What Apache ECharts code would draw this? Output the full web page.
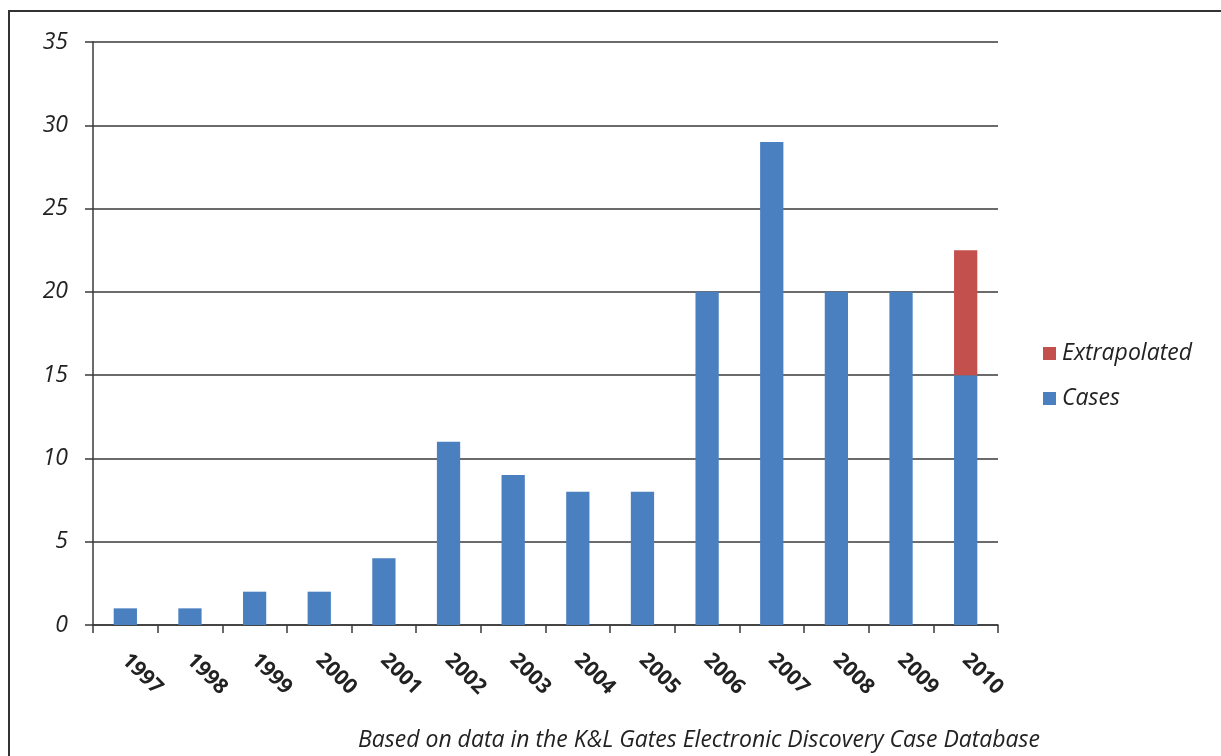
<!DOCTYPE html>
<html>
<head>
<meta charset="utf-8">
<script src="https://cdn.jsdelivr.net/npm/echarts@6/dist/echarts.min.js"></script>
<style>
  html, body { margin: 0; padding: 0; background: #fff; }
  #chart { width: 1221px; height: 756px; }
</style>
</head>
<body>
<div id="chart"></div>
<script>
// Yearly counts of e-discovery cases
const years = ['1997','1998','1999','2000','2001','2002','2003','2004','2005','2006','2007','2008','2009','2010'];
const cases = [1, 1, 2, 2, 4, 11, 9, 8, 8, 20, 29, 20, 20, 15];
const extrapolated = [0, 0, 0, 0, 0, 0, 0, 0, 0, 0, 0, 0, 0, 7.5];
const yTicks = { min: 0, max: 35, interval: 5 };
const sourceNote = 'Based on data in the K&L Gates Electronic Discovery Case Database';

const FONT = '"Open Sans", "Noto Sans", sans-serif';
const AXIS_COLOR = '#3a3a3a';

const chart = echarts.init(document.getElementById('chart'), null, { renderer: 'canvas' });

chart.setOption({
  animation: false,
  backgroundColor: '#fff',
  textStyle: { fontFamily: FONT },
  graphic: [
    {
      type: 'rect',
      shape: { x: 9, y: 11, width: 1240, height: 780 },
      style: { fill: 'none', stroke: '#333', lineWidth: 2 },
      silent: true
    },
    {
      type: 'text',
      x: 699,
      y: 740,
      style: {
        text: sourceNote,
        font: 'italic 23px ' + FONT,
        fill: '#222',
        align: 'center',
        verticalAlign: 'middle'
      }
    }
  ],
  legend: {
    orient: 'vertical',
    left: 1043,
    top: 342,
    padding: 0,
    itemWidth: 13,
    itemHeight: 13,
    itemGap: 22,
    icon: 'rect',
    data: ['Extrapolated', 'Cases'],
    textStyle: { fontFamily: FONT, fontStyle: 'italic', fontSize: 23, color: '#222', padding: [0, 0, 0, 1] }
  },
  grid: { left: 93, right: 223, top: 42, bottom: 131, containLabel: false },
  xAxis: {
    type: 'category',
    data: years,
    boundaryGap: true,
    axisLine: { lineStyle: { color: AXIS_COLOR, width: 1.5 } },
    axisTick: { show: true, length: 8, alignWithLabel: false, lineStyle: { color: AXIS_COLOR, width: 1.5 } },
    axisLabel: {
      rotate: -45,
      margin: 32,
      fontSize: 21,
      fontWeight: 'bold',
      color: '#222',
      fontFamily: FONT,
      interval: 0
    }
  },
  yAxis: {
    type: 'value',
    min: yTicks.min,
    max: yTicks.max,
    interval: yTicks.interval,
    axisLine: { show: true, lineStyle: { color: AXIS_COLOR, width: 1.5 } },
    axisTick: { show: true, length: 8, lineStyle: { color: AXIS_COLOR, width: 1.5 } },
    splitLine: { show: true, lineStyle: { color: AXIS_COLOR, width: 1.5 } },
    axisLabel: {
      margin: 25,
      fontSize: 23,
      fontStyle: 'italic',
      color: '#222',
      fontFamily: FONT
    }
  },
  series: [
    {
      name: 'Cases',
      type: 'bar',
      stack: 'total',
      barWidth: '36%',
      data: cases,
      itemStyle: { color: '#4a80c0' },
      z: 1
    },
    {
      name: 'Extrapolated',
      type: 'bar',
      stack: 'total',
      barWidth: '36%',
      data: extrapolated,
      itemStyle: { color: '#c3504d' },
      z: 1
    }
  ]
});
</script>
</body>
</html>
